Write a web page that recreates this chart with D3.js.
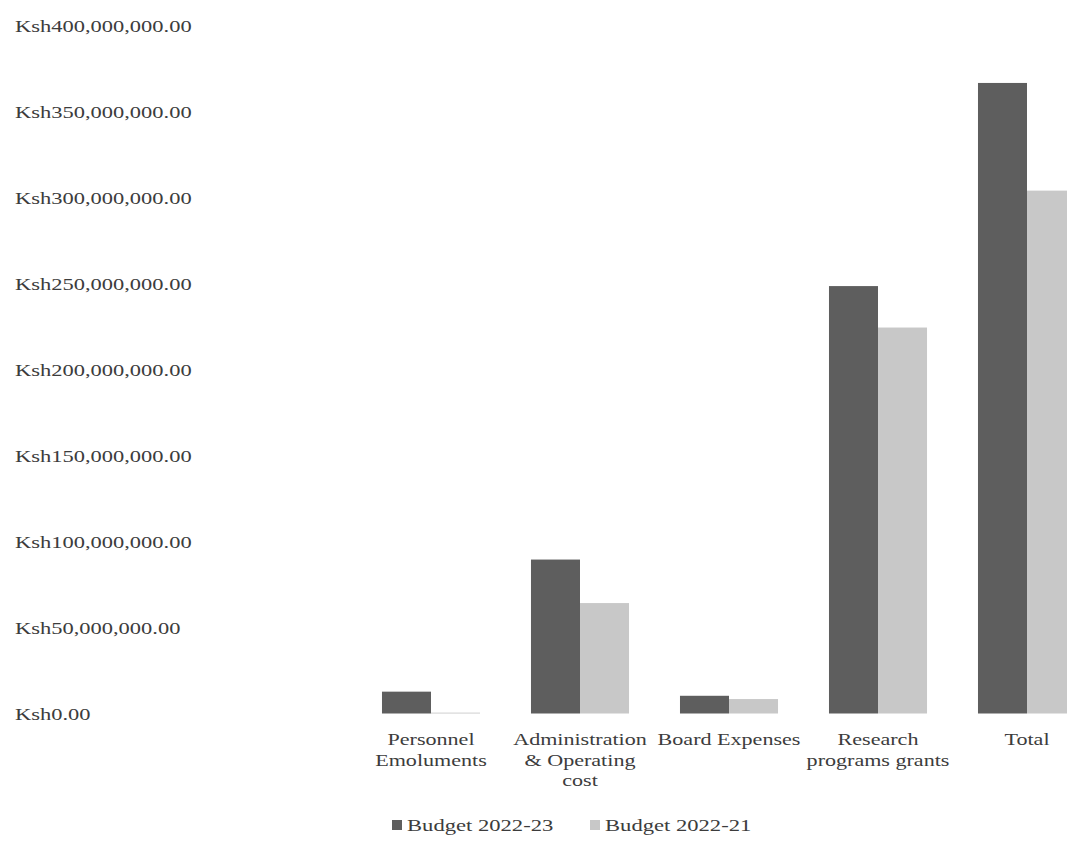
<!DOCTYPE html>
<html>
<head>
<meta charset="utf-8">
<script src="https://cdn.jsdelivr.net/npm/d3@7"></script>
<style>
  html, body { margin: 0; padding: 0; background: #ffffff; }
  svg { display: block; }
  text { font-family: "Liberation Serif", "Times New Roman", serif; }
</style>
</head>
<body>
<svg id="chart" width="1067" height="854"></svg>
<script>
// ---- data ----
const categories = ["Personnel Emoluments", "Administration & Operating cost", "Board Expenses", "Research programs grants", "Total"];
const categoryLines = [["Personnel", "Emoluments"], ["Administration", "& Operating", "cost"], ["Board Expenses"], ["Research", "programs grants"], ["Total"]];
const seriesNames = ["Budget 2022-23", "Budget 2022-21"];
const budget2022_23 = [12700000, 89500000, 10300000, 248500000, 366600000];
const budget2022_21 = [500000, 64200000, 8400000, 224400000, 304000000];
const tickValues = [0, 50000000, 100000000, 150000000, 200000000, 250000000, 300000000, 350000000, 400000000];
const tickLabels = ["Ksh0.00", "Ksh50,000,000.00", "Ksh100,000,000.00", "Ksh150,000,000.00", "Ksh200,000,000.00", "Ksh250,000,000.00", "Ksh300,000,000.00", "Ksh350,000,000.00", "Ksh400,000,000.00"];

const colors = ["#5e5e5e", "#c8c8c8"];
const textColor = "#3c3c3c";

const svg = d3.select("#chart");

const y = d3.scaleLinear().domain([0, 400000000]).range([713.5, 25.5]);
const x = d3.scaleBand().domain(categories).range([356.5, 1101.5]).paddingInner(0.342).paddingOuter(0.171);
const xs = d3.scaleBand().domain(seriesNames).range([0, x.bandwidth()]).padding(0);

// y axis labels (no line, no ticks)
const yAxis = d3.axisLeft(y).tickValues(tickValues).tickSize(0)
  .tickFormat((d, i) => tickLabels[i]);
const yg = svg.append("g").call(yAxis);
yg.select(".domain").remove();
yg.selectAll(".tick").each(function(d) {
  const t = d3.select(this);
  t.attr("transform", `translate(15,${y(d) + 1.5}) scale(1.405,1)`);
  t.select("text")
    .attr("x", 0).attr("dy", "0.33em")
    .attr("text-anchor", "start")
    .attr("fill", textColor)
    .style("font-size", "16px")
    .style("font-family", "'Liberation Serif', serif");
});

// bars
const seriesData = [budget2022_23, budget2022_21];
const groups = svg.append("g");
seriesData.forEach((vals, si) => {
  groups.selectAll(".bar" + si)
    .data(vals)
    .join("rect")
    .attr("class", "bar" + si)
    .attr("x", (d, i) => x(categories[i]) + xs(seriesNames[si]))
    .attr("width", xs.bandwidth())
    .attr("y", d => y(d))
    .attr("height", d => y(0) - y(d))
    .attr("fill", colors[si]);
});

// category labels
const lineH = 20.5;
categories.forEach((c, i) => {
  const cx = x(c) + x.bandwidth() / 2;
  categoryLines[i].forEach((ln, j) => {
    svg.append("text")
      .attr("transform", `translate(${cx},${y(0) + 26.5 + j * lineH}) scale(1.38,1)`)
      .attr("dy", "0.33em")
      .attr("text-anchor", "middle")
      .attr("fill", textColor)
      .style("font-size", "16px")
      .text(ln);
  });
});

// legend
const legendY = 825;
const legendX = [392, 590];
seriesNames.forEach((s, i) => {
  svg.append("rect")
    .attr("x", legendX[i]).attr("y", legendY - 5)
    .attr("width", 10).attr("height", 10)
    .attr("fill", colors[i]);
  svg.append("text")
    .attr("transform", `translate(${legendX[i] + 15},${legendY}) scale(1.33,1)`)
    .attr("dy", "0.33em")
    .attr("fill", textColor)
    .style("font-size", "17px")
    .text(s);
});
</script>
</body>
</html>
